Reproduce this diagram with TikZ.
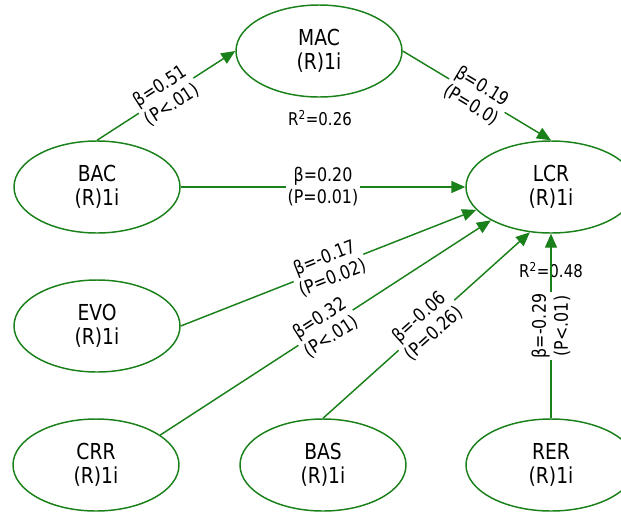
\documentclass[tikz,border=0pt]{standalone}
\usepackage{fontspec}
\setmainfont{DejaVu Sans}[FakeStretch=0.85]
\usetikzlibrary{arrows.meta,shapes.geometric}
\definecolor{pls}{RGB}{26,128,26}
\begin{document}
\begin{tikzpicture}[x=0.75pt,y=-0.75pt,
  lv/.style={ellipse,draw=pls,line width=1.1pt,minimum width=124.5pt,minimum height=69pt,inner sep=0pt,
    align=center,font=\fontsize{16.5}{18}\selectfont},
  path/.style={draw=pls,line width=1.1pt,-{Triangle[length=10.5pt,width=9pt]}},
  lab/.style={midway,sloped,fill=white,inner sep=1.5pt,align=center,font=\fontsize{14}{16.4}\selectfont},
  rsq/.style={inner sep=0pt,font=\fontsize{13.2}{16}\selectfont}]
\useasboundingbox (0,0) rectangle (621,515);
\clip (0,0) rectangle (621,515);
\node[lv] (MAC) at (319,51) {MAC\\(R)1i};
\node[lv] (BAC) at (97,187) {BAC\\(R)1i};
\node[lv,minimum width=127.5pt] (LCR) at (551,187) {LCR\\(R)1i};
\node[lv] (EVO) at (97,326) {EVO\\(R)1i};
\node[lv] (CRR) at (96,465) {CRR\\(R)1i};
\node[lv] (BAS) at (323,465) {BAS\\(R)1i};
\node[lv,minimum width=127.5pt] (RER) at (551,465) {RER\\(R)1i};
\node[rsq] (r1) at (320,118) {R\textsuperscript{2}=0.26};
\node[rsq] (r2) at (551,270) {R\textsuperscript{2}=0.48};
\draw[path] (BAC.north) -- node[lab] {β=0.51\\(P<.01)} (MAC.west);
\draw[path] (MAC.east) -- node[lab] {β=0.19\\(P=0.0)} (LCR.north);
\draw[path] (BAC.east) -- node[lab] {β=0.20\\(P=0.01)} (LCR.west);
\draw[path] (EVO.east) -- node[lab] {β=-0.17\\(P=0.02)} (LCR.197);
\draw[path] (CRR.25) -- node[lab] {β=0.32\\(P<.01)} (LCR.209);
\draw[path] (BAS.north) -- node[lab] {β=-0.06\\(P=0.26)} (LCR.245);
\draw[path] (RER.north) -- node[lab] {β=-0.29\\(P<.01)} (LCR.south);
\end{tikzpicture}
\end{document}
